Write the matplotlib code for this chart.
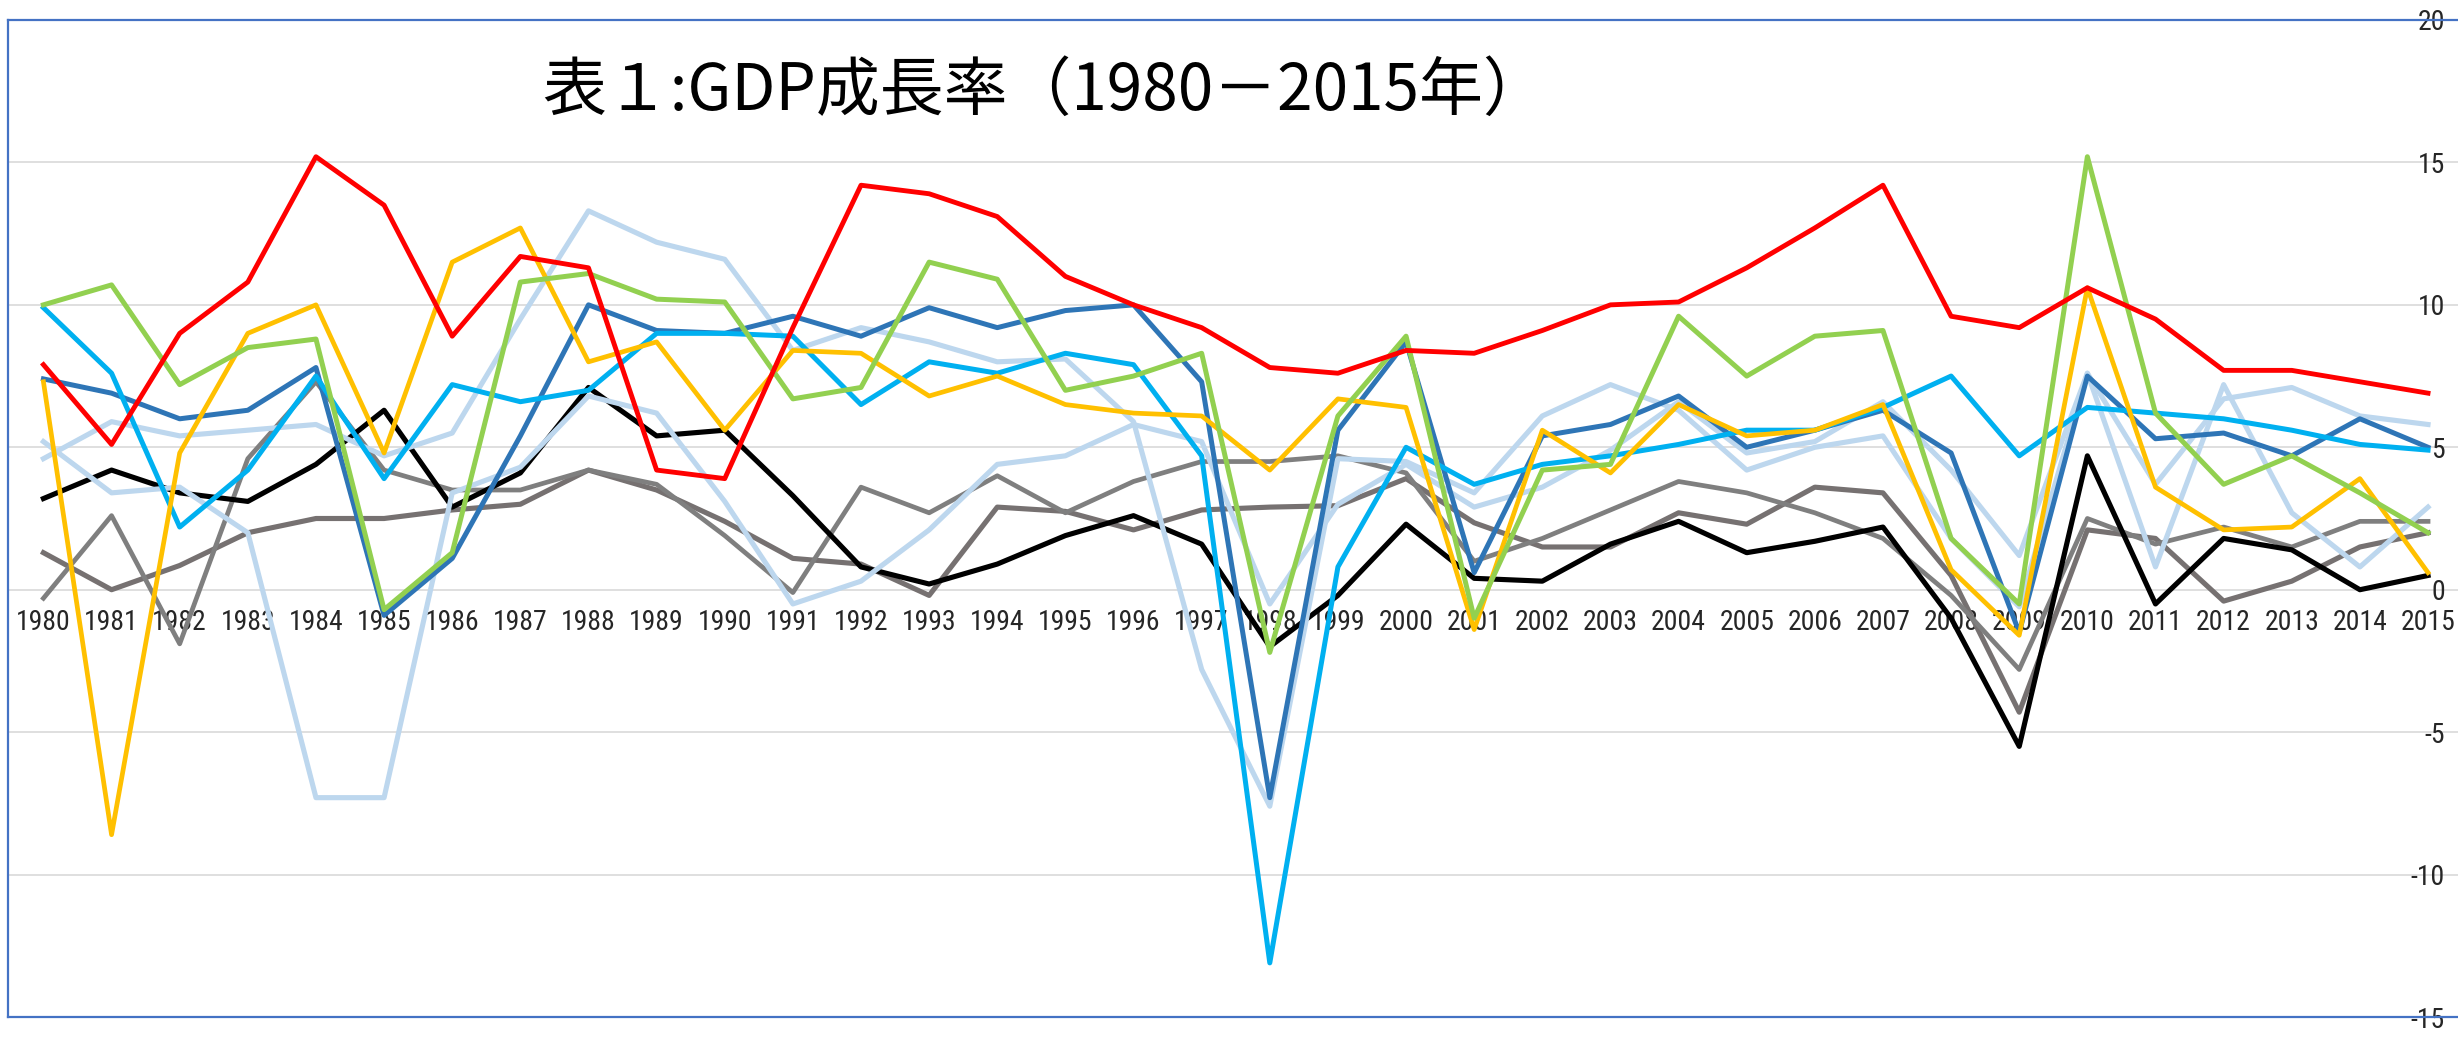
import matplotlib
matplotlib.use('Agg')
import matplotlib.pyplot as plt
from matplotlib import font_manager

# GDP growth rates (%)
years = list(range(1980, 2016))

china = [7.9, 5.1, 9.0, 10.8, 15.2, 13.5, 8.9, 11.7, 11.3, 4.2, 3.9, 9.2,
         14.2, 13.9, 13.1, 11.0, 10.0, 9.2, 7.8, 7.6, 8.4, 8.3, 9.1, 10.0,
         10.1, 11.3, 12.7, 14.2, 9.6, 9.2, 10.6, 9.5, 7.7, 7.7, 7.3, 6.9]
taiwan = [7.3, -8.6, 4.8, 9.0, 10.0, 4.8, 11.5, 12.7, 8.0, 8.7, 5.6, 8.4,
          8.3, 6.8, 7.5, 6.5, 6.2, 6.1, 4.2, 6.7, 6.4, -1.4, 5.6, 4.1,
          6.5, 5.4, 5.6, 6.5, 0.7, -1.6, 10.6, 3.6, 2.1, 2.2, 3.9, 0.6]
singapore = [10.0, 10.7, 7.2, 8.5, 8.8, -0.7, 1.3, 10.8, 11.1, 10.2, 10.1, 6.7,
             7.1, 11.5, 10.9, 7.0, 7.5, 8.3, -2.2, 6.1, 8.9, -1.0, 4.2, 4.4,
             9.6, 7.5, 8.9, 9.1, 1.8, -0.5, 15.2, 6.2, 3.7, 4.7, 3.4, 2.0]
indonesia = [9.9, 7.6, 2.2, 4.2, 7.5, 3.9, 7.2, 6.6, 7.0, 9.0, 9.0, 8.9,
             6.5, 8.0, 7.6, 8.3, 7.9, 4.7, -13.1, 0.8, 5.0, 3.7, 4.4, 4.7,
             5.1, 5.6, 5.6, 6.4, 7.5, 4.7, 6.4, 6.2, 6.0, 5.6, 5.1, 4.9]
malaysia = [7.4, 6.9, 6.0, 6.3, 7.8, -0.9, 1.1, 5.4, 10.0, 9.1, 9.0, 9.6,
            8.9, 9.9, 9.2, 9.8, 10.0, 7.3, -7.3, 5.6, 8.7, 0.6, 5.4, 5.8,
            6.8, 5.0, 5.6, 6.3, 4.8, -1.5, 7.5, 5.3, 5.5, 4.7, 6.0, 5.0]
thailand = [4.6, 5.9, 5.4, 5.6, 5.8, 4.7, 5.5, 9.5, 13.3, 12.2, 11.6, 8.4,
            9.2, 8.7, 8.0, 8.1, 5.9, -2.8, -7.6, 4.6, 4.5, 3.4, 6.1, 7.2,
            6.3, 4.2, 5.0, 5.4, 1.8, -0.6, 7.6, 0.8, 7.2, 2.7, 0.8, 2.9]
philippines = [5.2, 3.4, 3.6, 2.0, -7.3, -7.3, 3.4, 4.3, 6.8, 6.2, 3.1, -0.5,
               0.3, 2.1, 4.4, 4.7, 5.8, 5.2, -0.5, 3.0, 4.4, 2.9, 3.6, 4.9,
               6.6, 4.8, 5.2, 6.6, 4.2, 1.2, 7.6, 3.7, 6.7, 7.1, 6.1, 5.8]
japan = [3.2, 4.2, 3.4, 3.1, 4.4, 6.3, 2.9, 4.1, 7.1, 5.4, 5.6, 3.3,
         0.8, 0.2, 0.9, 1.9, 2.6, 1.6, -2.0, -0.2, 2.3, 0.4, 0.3, 1.6,
         2.4, 1.3, 1.7, 2.2, -1.0, -5.5, 4.7, -0.5, 1.8, 1.4, 0.0, 0.5]
usa = [-0.3, 2.6, -1.9, 4.6, 7.3, 4.2, 3.5, 3.5, 4.2, 3.7, 1.9, -0.1,
       3.6, 2.7, 4.0, 2.7, 3.8, 4.5, 4.5, 4.7, 4.1, 1.0, 1.8, 2.8,
       3.8, 3.4, 2.7, 1.8, -0.2, -2.8, 2.5, 1.6, 2.2, 1.5, 2.4, 2.4]
eu = [1.3, 0.0, 0.85, 2.0, 2.5, 2.5, 2.8, 3.0, 4.2, 3.5, 2.4, 1.1,
      0.9, -0.2, 2.9, 2.75, 2.1, 2.8, 2.9, 2.95, 3.9, 2.35, 1.5, 1.5,
      2.7, 2.3, 3.6, 3.4, 0.5, -4.3, 2.1, 1.8, -0.4, 0.3, 1.5, 2.0]

y_ticks = [-15, -10, -5, 0, 5, 10, 15, 20]
title = '表１:GDP成長率（1980－2015年）'

# pick a narrow face for the axis numbers if one is installed
names = {f.name for f in font_manager.fontManager.ttflist}
tick_font = 'DejaVu Sans'
for cand in ['Liberation Sans Narrow', 'DejaVu Sans Condensed', 'Roboto Condensed',
             'Open Sans Condensed', 'Noto Sans Condensed', 'Noto Sans ExtraCondensed']:
    if cand in names:
        tick_font = cand
        break
plt.rcParams['axes.unicode_minus'] = False

W, H = 2458, 1037
fig = plt.figure(figsize=(W / 100, H / 100), dpi=100)
ax = fig.add_axes([8 / W, 1 - 1017 / H, 1 - 8 / W, (1017 - 20) / H])

series = [
    (eu, '#767171', 3.7),
    (usa, '#7F7F7F', 3.4),
    (japan, '#000000', 3.7),
    (philippines, '#BDD7EE', 3.7),
    (thailand, '#BDD7EE', 3.7),
    (malaysia, '#2E75B6', 3.6),
    (indonesia, '#00B0F0', 3.6),
    (taiwan, '#FFC000', 3.4),
    (singapore, '#92D050', 3.6),
    (china, '#FF0000', 3.5),
]
for vals, color, lw in series:
    ax.plot(years, vals, color=color, lw=lw, solid_joinstyle='round')

ax.set_ylim(y_ticks[0], y_ticks[-1])
ax.set_xlim(years[0] - 0.52, years[-1] + 0.44)
ax.set_yticks(y_ticks)
ax.set_xticks([])
ax.yaxis.grid(True, color='#D9D9D9', lw=1.2)
ax.set_axisbelow(True)
ax.tick_params(axis='y', left=False, right=False, labelleft=False, labelright=True,
               pad=-13, labelsize=20, labelcolor='#262626')
for lab in ax.get_yticklabels():
    lab.set_horizontalalignment('right')
    lab.set_fontfamily(tick_font)
    lab.set_fontstretch('condensed')

for side in ['top', 'left', 'bottom']:
    ax.spines[side].set_color('#4472C4')
    ax.spines[side].set_linewidth(1.6)
ax.spines['right'].set_visible(False)

# category labels sit just under the zero line
zero_pos = (0 - y_ticks[0]) / (y_ticks[-1] - y_ticks[0])
sec = ax.secondary_xaxis(zero_pos)
sec.set_xticks(years)
sec.set_xticklabels([str(y) for y in years], fontfamily=tick_font, fontstretch='condensed')
sec.tick_params(length=0, pad=14, labelsize=20, labelcolor='#262626')
for s in sec.spines.values():
    s.set_visible(False)

fig.text(1045 / W, 1 - 92 / H, title, fontsize=46, ha='center', va='center',
         family=['Noto Sans CJK JP', 'DejaVu Sans'])

fig.savefig('out.png', dpi=100)
